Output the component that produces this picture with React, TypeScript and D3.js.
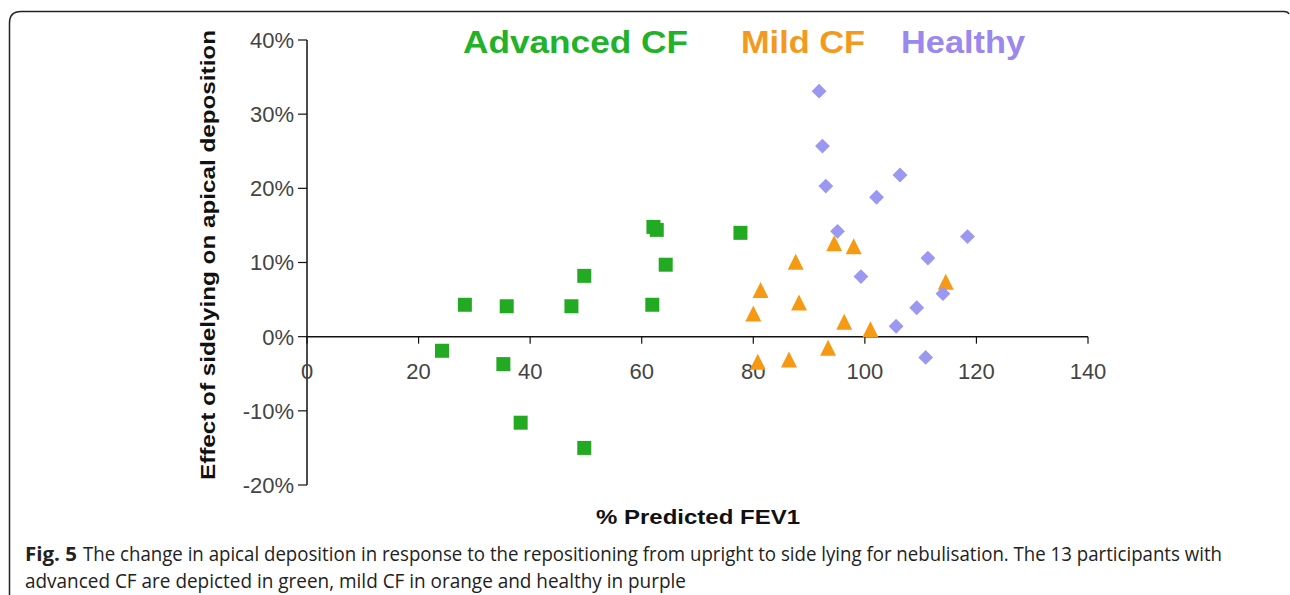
import React from "react";
import * as d3 from "d3";

const advancedX = [24.2, 28.3, 35.8, 35.2, 38.3, 47.4, 49.7, 49.7, 62.1, 62.7, 64.3, 61.9, 77.7];
const advancedY = [-1.9, 4.3, 4.1, -3.7, -11.6, 4.1, 8.2, -15.0, 14.8, 14.4, 9.7, 4.3, 14.0];
const mildX = [94.5, 98.0, 87.6, 81.3, 88.2, 80.0, 96.3, 101.0, 114.5, 93.4, 86.4, 80.8];
const mildY = [12.5, 12.1, 10.0, 6.2, 4.5, 3.0, 1.9, 0.9, 7.3, -1.6, -3.2, -3.5];
const healthyX = [91.8, 92.4, 93.0, 106.3, 102.1, 95.1, 118.4, 111.3, 99.3, 114.0, 109.3, 105.6, 110.9];
const healthyY = [33.1, 25.7, 20.3, 21.8, 18.8, 14.2, 13.5, 10.6, 8.1, 5.8, 3.9, 1.4, -2.8];

const xTicks = [0, 20, 40, 60, 80, 100, 120, 140];
const yTicks = [40, 30, 20, 10, 0, -10, -20];
const legendLabels = ["Advanced CF", "Mild CF", "Healthy"];
const colors = ["#22aa22", "#f59a12", "#9a98f0"];
const legendColors = ["#22b22a", "#f39a1e", "#9a88ee"];

const W = 1290;
const H = 595;

// upright triangle, roughly as tall as it is wide
const triType = {
  draw(ctx: any, size: number) {
    const s = Math.sqrt(size);
    const h = s;
    ctx.moveTo(0, -h * 0.55);
    ctx.lineTo(s * 0.5, h * 0.45);
    ctx.lineTo(-s * 0.5, h * 0.45);
    ctx.closePath();
  },
};

export default function App() {
  const x = d3.scaleLinear().domain([0, 140]).range([307, 1088]);
  const y = d3.scaleLinear().domain([-20, 40]).range([485, 40]);
  const y0 = y(0);

  const sq = d3.symbol().type(d3.symbolSquare).size(196)();
  const tri = d3.symbol().type(triType as any).size(256)();
  const dia = d3.symbol().type(d3.symbolDiamond2 || d3.symbolDiamond).size(140)();

  const font = "'Liberation Sans', Arial, sans-serif";
  const capFont = "'Open Sans', sans-serif";
  const legendX = [463, 741, 901];
  const legendW = [225, 124, 124];

  return (
    <svg
      width={W}
      height={H}
      style={{ position: "absolute", left: 0, top: 0, background: "#fff" }}
    >
      <rect x={0} y={0} width={W} height={H} fill="#fff" />
      {/* frame */}
      <path
        d={`M9.5,${H + 5} L9.5,23 Q9.5,11.5 21,11.5 L1284,11.5 Q1288,11.5 1289,14`}
        fill="none"
        stroke="#222"
        strokeWidth={1.5}
      />
      {/* legend */}
      {legendLabels.map((t, i) => (
        <text
          key={t}
          x={legendX[i]}
          y={53}
          fill={legendColors[i]}
          fontFamily={font}
          fontWeight="bold"
          fontSize={32}
          textLength={legendW[i]}
          lengthAdjust="spacingAndGlyphs"
        >
          {t}
        </text>
      ))}
      {/* axes */}
      <line x1={x(0)} x2={x(0)} y1={y(40)} y2={y(-20)} stroke="#111" strokeWidth={1.5} />
      <line x1={x(0)} x2={x(140)} y1={y0} y2={y0} stroke="#111" strokeWidth={1.5} />
      {yTicks.map((t) => (
        <g key={"y" + t}>
          <line x1={x(0) - 9} x2={x(0)} y1={y(t)} y2={y(t)} stroke="#111" strokeWidth={1.2} />
          <text
            x={x(0) - 13}
            y={y(t)}
            dy="0.36em"
            textAnchor="end"
            fontFamily={font}
            fontSize={22}
            fill="#444"
          >
            {t + "%"}
          </text>
        </g>
      ))}
      {xTicks.map((t) => (
        <g key={"x" + t}>
          <line x1={x(t)} x2={x(t)} y1={y0} y2={y0 + 7} stroke="#111" strokeWidth={1.2} />
          <text
            x={x(t)}
            y={379}
            textAnchor="middle"
            fontFamily={font}
            fontSize={22}
            fill="#444"
          >
            {t}
          </text>
        </g>
      ))}
      {/* axis titles */}
      <text
        transform={`translate(215,${(30 + 480) / 2}) rotate(-90)`}
        textAnchor="middle"
        fontFamily={font}
        fontWeight="bold"
        fontSize={20}
        fill="#111"
        textLength={450}
        lengthAdjust="spacingAndGlyphs"
      >
        Effect of sidelying on apical deposition
      </text>
      <text
        x={698}
        y={524}
        textAnchor="middle"
        fontFamily={font}
        fontWeight="bold"
        fontSize={20}
        fill="#111"
        textLength={204}
        lengthAdjust="spacingAndGlyphs"
      >
        % Predicted FEV1
      </text>
      {/* markers */}
      {advancedX.map((v, i) => (
        <path key={"a" + i} d={sq} transform={`translate(${x(v)},${y(advancedY[i])})`} fill={colors[0]} />
      ))}
      {mildX.map((v, i) => (
        <path key={"m" + i} d={tri} transform={`translate(${x(v)},${y(mildY[i])})`} fill={colors[1]} />
      ))}
      {healthyX.map((v, i) => (
        <path key={"h" + i} d={dia} transform={`translate(${x(v)},${y(healthyY[i])})`} fill={colors[2]} />
      ))}
      {/* caption */}
      <text x={25} y={561} fontFamily={capFont} fontSize={19.5} fontWeight="bold" fill="#222" textLength={52} lengthAdjust="spacingAndGlyphs">
        Fig. 5
      </text>
      <text x={83} y={561} fontFamily={capFont} fontSize={19.5} fill="#222" textLength={1139} lengthAdjust="spacingAndGlyphs">
        The change in apical deposition in response to the repositioning from upright to side lying for nebulisation. The 13 participants with
      </text>
      <text x={25} y={588} fontFamily={capFont} fontSize={19.5} fill="#222" textLength={661} lengthAdjust="spacingAndGlyphs">
        advanced CF are depicted in green, mild CF in orange and healthy in purple
      </text>
    </svg>
  );
}
